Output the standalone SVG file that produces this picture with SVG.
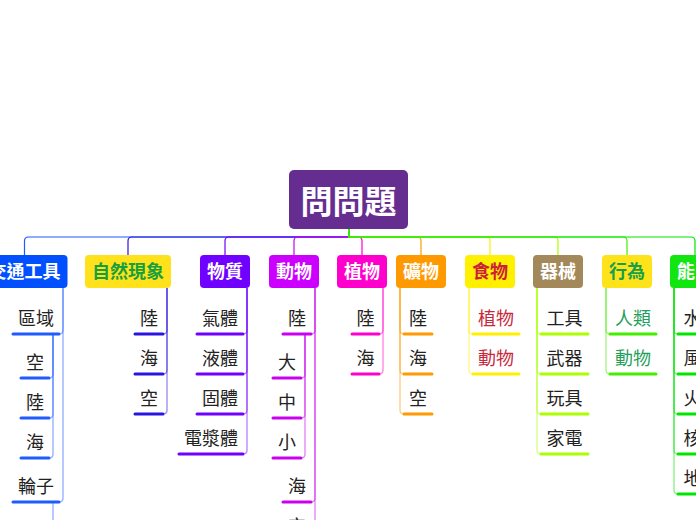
<svg xmlns="http://www.w3.org/2000/svg" width="696" height="520" viewBox="0 0 696 520">
<style>
text{font-family:'Liberation Sans','Noto Sans CJK TC',sans-serif}
.t0{font-size:32px;font-weight:bold;fill:#fff;text-anchor:middle}
.t1{font-size:18px;font-weight:bold;fill:#fff;text-anchor:middle}
.t2{font-size:18px;fill:#222;text-anchor:middle}
.ul{fill:none;stroke-width:3;stroke-linecap:round}
.cn{fill:none;stroke-width:1.3;stroke-opacity:.5}
.rc{fill:none;stroke-width:1.2}
.c1{stroke:#1f5bff}.c2{stroke:#2a14e0}.c3{stroke:#7000ff}.c4{stroke:#cc00f0}.c5{stroke:#ff00cc}
.c6{stroke:#ff9a00}.c7{stroke:#fff000}.c8{stroke:#aaff00}.c9{stroke:#44ee00}.c10{stroke:#00e600}
</style>
<rect width="696" height="520" fill="#fff"/>
<g id="connectors">
<path class="rc c1" d="M349,229V237H28.5Q24.5,237 24.5,241V255"/>
<path class="rc c2" d="M349,229V237H132Q128,237 128,241V255"/>
<path class="rc c3" d="M349,229V237H229Q225,237 225,241V255"/>
<path class="rc c4" d="M349,229V237H298Q294,237 294,241V255"/>
<path class="rc c5" d="M349,229V237H358Q362,237 362,241V255"/>
<path class="rc c6" d="M349,229V237H417Q421,237 421,241V255"/>
<path class="rc c7" d="M349,229V237H486Q490,237 490,241V255"/>
<path class="rc c8" d="M349,229V237H554Q558,237 558,241V255"/>
<path class="rc c9" d="M349,229V237H623Q627,237 627,241V255"/>
<path class="rc c10" d="M349,229V237H691Q695,237 695,241V255"/>
<path class="cn c1" d="M63,288V330Q63,334 59,334"/>
<path class="cn c1" d="M63,288V498Q63,502 59,502"/>
<path class="cn c1" d="M53,334V374Q53,378 49,378"/>
<path class="cn c1" d="M53,334V414Q53,418 49,418"/>
<path class="cn c1" d="M53,334V454Q53,458 49,458"/>
<path class="cn c1" d="M53,502V542Q53,546 49,546"/>
<path class="cn c2" d="M167,288V330Q167,334 163,334"/>
<path class="cn c2" d="M167,288V370Q167,374 163,374"/>
<path class="cn c2" d="M167,288V410Q167,414 163,414"/>
<path class="cn c3" d="M247,288V330Q247,334 243,334"/>
<path class="cn c3" d="M247,288V370Q247,374 243,374"/>
<path class="cn c3" d="M247,288V410Q247,414 243,414"/>
<path class="cn c3" d="M247,288V450Q247,454 243,454"/>
<path class="cn c4" d="M315,288V330Q315,334 311,334"/>
<path class="cn c4" d="M315,288V498Q315,502 311,502"/>
<path class="cn c4" d="M315,288V538Q315,542 311,542"/>
<path class="cn c4" d="M305,334V374Q305,378 301,378"/>
<path class="cn c4" d="M305,334V414Q305,418 301,418"/>
<path class="cn c4" d="M305,334V454Q305,458 301,458"/>
<path class="cn c5" d="M383,288V330Q383,334 379,334"/>
<path class="cn c5" d="M383,288V370Q383,374 379,374"/>
<path class="cn c6" d="M400,288V330Q400,334 404,334"/>
<path class="cn c6" d="M400,288V370Q400,374 404,374"/>
<path class="cn c6" d="M400,288V410Q400,414 404,414"/>
<path class="cn c7" d="M469,288V330Q469,334 473,334"/>
<path class="cn c7" d="M469,288V370Q469,374 473,374"/>
<path class="cn c8" d="M537,288V330Q537,334 541,334"/>
<path class="cn c8" d="M537,288V370Q537,374 541,374"/>
<path class="cn c8" d="M537,288V410Q537,414 541,414"/>
<path class="cn c8" d="M537,288V450Q537,454 541,454"/>
<path class="cn c9" d="M606,288V330Q606,334 610,334"/>
<path class="cn c9" d="M606,288V370Q606,374 610,374"/>
<path class="cn c10" d="M674,288V330Q674,334 678,334"/>
<path class="cn c10" d="M674,288V370Q674,374 678,374"/>
<path class="cn c10" d="M674,288V410Q674,414 678,414"/>
<path class="cn c10" d="M674,288V450Q674,454 678,454"/>
<path class="cn c10" d="M674,288V490Q674,494 678,494"/>
</g>
<g id="root"><rect x="289" y="170" width="119" height="59" rx="5" fill="#662d91"/><text class="t0" x="348.5" y="213">問問題</text></g>
<g id="n-jiaotong"><rect x="-18.5" y="255" width="86" height="33" rx="4" fill="#0050ff"/><text class="t1" x="24.5" y="278">交通工具</text></g>
<g id="n-ziran"><rect x="85" y="255" width="86" height="33" rx="4" fill="#ffe21c"/><text class="t1" x="128" y="278" fill="#16a03c" style="fill:#16a03c">自然現象</text></g>
<g id="n-wuzhi"><rect x="200" y="255" width="50" height="33" rx="4" fill="#7000ff"/><text class="t1" x="225" y="278">物質</text></g>
<g id="n-dongwu"><rect x="269" y="255" width="50" height="33" rx="4" fill="#cc00ff"/><text class="t1" x="294" y="278">動物</text></g>
<g id="n-zhiwu"><rect x="337" y="255" width="50" height="33" rx="4" fill="#ff00cc"/><text class="t1" x="362" y="278">植物</text></g>
<g id="n-kuangwu"><rect x="396" y="255" width="50" height="33" rx="4" fill="#ff9900"/><text class="t1" x="421" y="278">礦物</text></g>
<g id="n-shiwu"><rect x="465" y="255" width="50" height="33" rx="4" fill="#fff000"/><text class="t1" x="490" y="278" style="fill:#cc1f3a">食物</text></g>
<g id="n-qixie"><rect x="533" y="255" width="50" height="33" rx="4" fill="#a3895a"/><text class="t1" x="558" y="278">器械</text></g>
<g id="n-xingwei"><rect x="602" y="255" width="50" height="33" rx="4" fill="#ffe31a"/><text class="t1" x="627" y="278" style="fill:#17a04a">行為</text></g>
<g id="n-neng"><rect x="670" y="255" width="50" height="33" rx="4" fill="#11e611"/><text class="t1" x="677" y="278" style="text-anchor:start">能</text></g>
<g id="jt-quyu"><path class="ul c1" d="M13,334H59"/><text class="t2" x="36" y="324.5">區域</text></g>
<g id="jt-kong"><path class="ul c1" d="M21,378H49"/><text class="t2" x="35" y="368.5">空</text></g>
<g id="jt-lu"><path class="ul c1" d="M21,418H49"/><text class="t2" x="35" y="408.5">陸</text></g>
<g id="jt-hai"><path class="ul c1" d="M21,458H49"/><text class="t2" x="35" y="448.5">海</text></g>
<g id="jt-lunzi"><path class="ul c1" d="M13,502H59"/><text class="t2" x="36" y="492.5">輪子</text></g>
<g id="zr-lu"><path class="ul c2" d="M135,334H163"/><text class="t2" x="149" y="324.5">陸</text></g>
<g id="zr-hai"><path class="ul c2" d="M135,374H163"/><text class="t2" x="149" y="364.5">海</text></g>
<g id="zr-kong"><path class="ul c2" d="M135,414H163"/><text class="t2" x="149" y="404.5">空</text></g>
<g id="wz-qi"><path class="ul c3" d="M197,334H243"/><text class="t2" x="220" y="324.5">氣體</text></g>
<g id="wz-ye"><path class="ul c3" d="M197,374H243"/><text class="t2" x="220" y="364.5">液體</text></g>
<g id="wz-gu"><path class="ul c3" d="M197,414H243"/><text class="t2" x="220" y="404.5">固體</text></g>
<g id="wz-dj"><path class="ul c3" d="M179,454H243"/><text class="t2" x="211" y="444.5">電漿體</text></g>
<g id="dw-lu"><path class="ul c4" d="M283,334H311"/><text class="t2" x="297" y="324.5">陸</text></g>
<g id="dw-da"><path class="ul c4" d="M273,378H301"/><text class="t2" x="287" y="368.5">大</text></g>
<g id="dw-zhong"><path class="ul c4" d="M273,418H301"/><text class="t2" x="287" y="408.5">中</text></g>
<g id="dw-xiao"><path class="ul c4" d="M273,458H301"/><text class="t2" x="287" y="448.5">小</text></g>
<g id="dw-hai"><path class="ul c4" d="M283,502H311"/><text class="t2" x="297" y="492.5">海</text></g>
<g id="dw-kong"><path class="ul c4" d="M283,542H311"/><text class="t2" x="297" y="532.5">空</text></g>
<g id="zw-lu"><path class="ul c5" d="M352,334H379"/><text class="t2" x="365.5" y="324.5">陸</text></g>
<g id="zw-hai"><path class="ul c5" d="M352,374H379"/><text class="t2" x="365.5" y="364.5">海</text></g>
<g id="kw-lu"><path class="ul c6" d="M404,334H432"/><text class="t2" x="418" y="324.5">陸</text></g>
<g id="kw-hai"><path class="ul c6" d="M404,374H432"/><text class="t2" x="418" y="364.5">海</text></g>
<g id="kw-kong"><path class="ul c6" d="M404,414H432"/><text class="t2" x="418" y="404.5">空</text></g>
<g id="sw-zhiwu"><path class="ul c7" d="M473,334H519"/><text class="t2" x="496" y="324.5" style="fill:#c8283c">植物</text></g>
<g id="sw-dongwu"><path class="ul c7" d="M473,374H519"/><text class="t2" x="496" y="364.5" style="fill:#c8283c">動物</text></g>
<g id="qx-gongju"><path class="ul c8" d="M541,334H588"/><text class="t2" x="564.5" y="324.5">工具</text></g>
<g id="qx-wuqi"><path class="ul c8" d="M541,374H588"/><text class="t2" x="564.5" y="364.5">武器</text></g>
<g id="qx-wanju"><path class="ul c8" d="M541,414H588"/><text class="t2" x="564.5" y="404.5">玩具</text></g>
<g id="qx-jiadian"><path class="ul c8" d="M541,454H588"/><text class="t2" x="564.5" y="444.5">家電</text></g>
<g id="xw-renlei"><path class="ul c9" d="M610,334H656"/><text class="t2" x="633" y="324.5" style="fill:#1fa05a">人類</text></g>
<g id="xw-dongwu"><path class="ul c9" d="M610,374H656"/><text class="t2" x="633" y="364.5" style="fill:#1fa05a">動物</text></g>
<g id="ny-shui"><path class="ul c10" d="M678,334H725"/><text class="t2" x="683.5" y="324.5" style="text-anchor:start">水</text></g>
<g id="ny-feng"><path class="ul c10" d="M678,374H725"/><text class="t2" x="683.5" y="364.5" style="text-anchor:start">風</text></g>
<g id="ny-huo"><path class="ul c10" d="M678,414H725"/><text class="t2" x="683.5" y="404.5" style="text-anchor:start">火</text></g>
<g id="ny-he"><path class="ul c10" d="M678,454H725"/><text class="t2" x="683.5" y="444.5" style="text-anchor:start">核</text></g>
<g id="ny-di"><path class="ul c10" d="M678,494H725"/><text class="t2" x="683.5" y="484.5" style="text-anchor:start">地</text></g>
</svg>
